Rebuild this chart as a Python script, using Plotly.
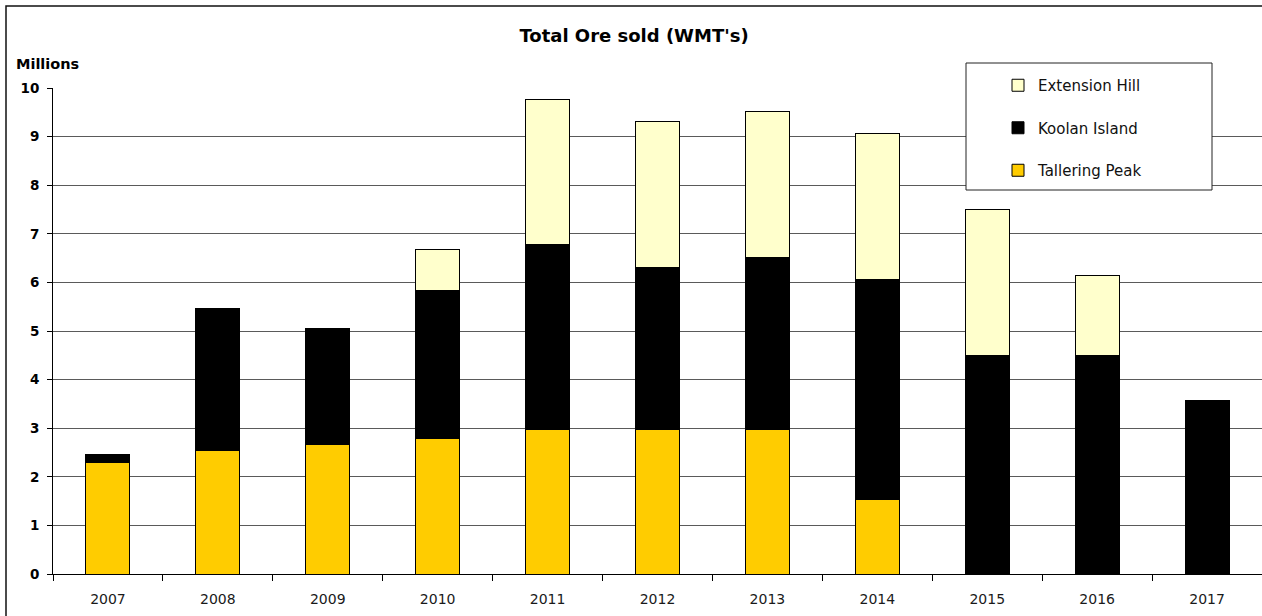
import plotly.graph_objects as go

years = ["2007", "2008", "2009", "2010", "2011", "2012", "2013", "2014", "2015", "2016", "2017"]
tallering_peak = [2.30, 2.55, 2.67, 2.79, 2.98, 2.98, 2.98, 1.54, 0, 0, 0]
koolan_island = [0.16, 2.91, 2.38, 3.05, 3.79, 3.33, 3.54, 4.52, 4.50, 4.50, 3.56]
extension_hill = [0, 0, 0, 0.83, 2.99, 3.00, 2.99, 3.01, 3.00, 1.64, 0]
y_ticks = [0, 1, 2, 3, 4, 5, 6, 7, 8, 9, 10]

W, H = 1262, 616
ML, MR, MT, MB = 53, 0, 88, 42
PW, PH = W - ML - MR, H - MT - MB


def px_x(x):
    return (x - ML) / PW


def px_y(y):
    return (H - MB - y) / PH


FONT = "DejaVu Sans"
line = dict(color="#000000", width=1)

fig = go.Figure()
fig.add_trace(go.Bar(name="Tallering Peak", x=years, y=tallering_peak,
                     marker=dict(color="#FFCC00", line=line), legendgroup="tp",
                     legendrank=3))
fig.add_trace(go.Bar(name="Koolan Island", x=years, y=koolan_island,
                     marker=dict(color="#000000", line=line), legendgroup="ki",
                     legendrank=2))
fig.add_trace(go.Bar(name="Extension Hill", x=years, y=extension_hill,
                     marker=dict(color="#FFFFCC", line=line), legendgroup="eh",
                     legendrank=1))

fig.update_layout(
    width=W, height=H,
    margin=dict(l=ML, r=MR, t=MT, b=MB),
    paper_bgcolor="white", plot_bgcolor="white",
    barmode="stack", bargap=0.6,
    font=dict(family=FONT, color="#000000"),
    title=dict(text="Total Ore sold (WMT's)", x=634 / W, xref="container",
               xanchor="center", y=1 - 36 / H, yref="container", yanchor="middle",
               font=dict(family=FONT, size=18, color="#000000", weight="bold")),
    legend=dict(x=px_x(998), y=px_y(69), xanchor="left", yanchor="top",
                bgcolor="rgba(0,0,0,0)", borderwidth=0,
                traceorder="grouped", tracegroupgap=20,
                font=dict(family=FONT, size=15, color="#111111")),
    xaxis=dict(type="category", range=[-0.5, 10.5], showline=True, linecolor="#000000",
               linewidth=1, ticks="outside", tickson="boundaries", ticklen=6,
               tickcolor="#000000", showgrid=False,
               tickfont=dict(family=FONT, size=14, color="#1a1a1a"),
               ticklabelstandoff=12),
    yaxis=dict(range=[0, 10], tickvals=y_ticks, showline=True, linecolor="#000000",
               linewidth=1, ticks="outside", ticklen=5, tickcolor="#000000",
               showgrid=True, gridcolor="#5a5a5a", gridwidth=1.3, zeroline=False,
               tickfont=dict(family=FONT, size=13.5, color="#000000", weight="bold"),
               ticklabelstandoff=5),
    annotations=[dict(text="Millions", xref="paper", yref="paper",
                      x=px_x(14), y=px_y(64), xanchor="left", yanchor="middle",
                      showarrow=False,
                      font=dict(family=FONT, size=14.5, color="#000000", weight="bold"))],
    shapes=[
        dict(type="rect", xref="paper", yref="paper", x0=px_x(6), x1=px_x(1300),
             y0=px_y(6), y1=px_y(700), line=dict(color="#111111", width=1.5),
             fillcolor="rgba(0,0,0,0)", layer="below"),
        dict(type="rect", xref="paper", yref="paper", x0=px_x(966), x1=px_x(1212),
             y0=px_y(63), y1=px_y(190), line=dict(color="#222222", width=1),
             fillcolor="white", layer="above"),
    ],
)

fig.write_html("out.html", config={"displayModeBar": False},
               post_script="document.body.style.margin='0';")
